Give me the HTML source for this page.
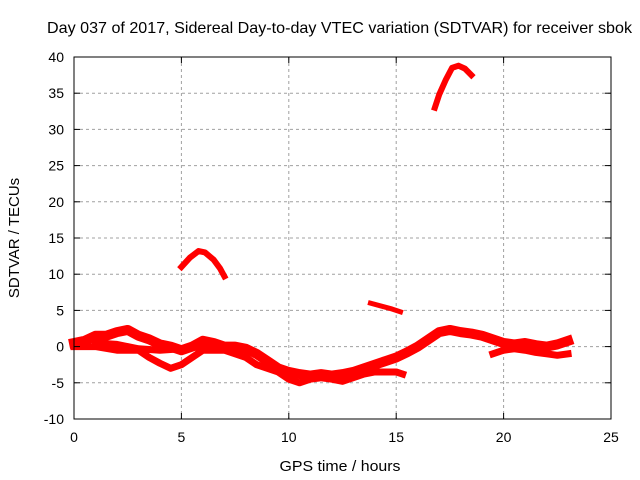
<!DOCTYPE html>
<html><head><meta charset="utf-8"><style>
body{margin:0;background:#fff;}
svg{display:block;font-family:"Liberation Sans",sans-serif;}
</style></head><body>
<svg id="chart" width="640" height="480" viewBox="0 0 640 480">
<rect width="640" height="480" fill="#fff"/>
<text x="339.5" y="33" font-size="16" text-anchor="middle" textLength="585" lengthAdjust="spacingAndGlyphs">Day 037 of 2017, Sidereal Day-to-day VTEC variation (SDTVAR) for receiver sbok</text>
<g id="grid"></g>
<g id="series"></g>
<rect x="74" y="57" width="537" height="362" fill="none" stroke="#000" stroke-width="1"/>
<g id="axes"></g>
<text x="340" y="471" font-size="15" text-anchor="middle" textLength="121" lengthAdjust="spacingAndGlyphs">GPS time / hours</text>
<text transform="translate(19,238) rotate(-90)" font-size="15" text-anchor="middle">SDTVAR / TECUs</text>
</svg>
<script>
const xTicks=[0,5,10,15,20,25];
const yTicks=[-10,-5,0,5,10,15,20,25,30,35,40];
const mainT=[0,0.5,1,1.5,2,2.5,3,3.5,4,4.5,5,5.5,6,6.5,7,7.5,8,8.5,9,9.5,10,10.5,11,11.5,12,12.5,13,13.5,14,14.5,15,15.5,16,16.5,17,17.5,18,18.5,19,19.5,20,20.5,21,21.5,22,22.5,23];
const mainV=[0.5,0.8,1.5,1.5,2,2.3,1.5,1,0.3,0,-0.5,0,0.8,0.5,0,0,-0.3,-1,-2,-3,-3.5,-3.8,-4,-3.8,-4,-3.8,-3.5,-3,-2.5,-2,-1.5,-0.8,0,1,2,2.3,2,1.8,1.5,1,0.5,0.3,0.5,0.2,0,0.3,0.8];
const lowT=[0,1,2,3,3.5,4,4.5,5,5.5,6,6.5,7,7.5,8,8.5,9,9.5,10,10.5,11,11.5,12,12.5,13,13.5,14,14.5,15,15.3];
const lowV=[0,0,-0.5,-0.5,-1.5,-2.3,-3,-2.5,-1.5,-0.5,-0.5,-0.5,-1,-1.5,-2.5,-3,-3.5,-4.5,-5,-4.5,-4.3,-4.5,-4.8,-4.3,-3.8,-3.5,-3.5,-3.5,-3.8];
const midT=[1,2,3,4,5,6,7,7.5];
const midV=[0.5,0.3,-0.3,-0.5,-0.3,0,0,0];
const tailT=[19.5,20,20.5,21,21.5,22,22.5,23];
const tailV=[-1,-0.5,-0.3,-0.5,-0.8,-1,-1.2,-1];
const hump1T=[5,5.4,5.8,6.1,6.5,6.8,7];
const hump1V=[11,12.3,13.2,13,12,10.8,9.7];
const segT=[13.8,14.3,14.8,15.2];
const segV=[6,5.6,5.2,4.8];
const hump2T=[16.8,17,17.3,17.6,17.9,18.2,18.5];
const hump2V=[33,34.8,36.8,38.5,38.8,38.4,37.5];
const X=t=>74+t*(537/25);
const Y=v=>346.6-v*7.24;
const NS="http://www.w3.org/2000/svg";
const grid=document.getElementById('grid'),axes=document.getElementById('axes'),ser=document.getElementById('series');
function mk(tag,attrs,parent){const e=document.createElementNS(NS,tag);for(const k in attrs)e.setAttribute(k,attrs[k]);parent.appendChild(e);return e;}
xTicks.forEach(t=>{
 if(t>0&&t<25){const g=mk('line',{x1:X(t),x2:X(t),y1:57,y2:419,stroke:'#a0a0a0','stroke-dasharray':'3,3'},grid);
 
 }
 const l=mk('text',{x:X(t),y:442,'font-size':14,'text-anchor':'middle'},axes);l.textContent=t;
 
 
 mk('line',{x1:X(t),x2:X(t),y1:419,y2:413,stroke:'#000'},axes);
 mk('line',{x1:X(t),x2:X(t),y1:57,y2:63,stroke:'#000'},axes);
});
yTicks.forEach(v=>{
 if(v>-10&&v<40){const g=mk('line',{x1:74,x2:611,y1:Y(v),y2:Y(v),stroke:'#a0a0a0','stroke-dasharray':'3,3'},grid);
 
 }
 const l=mk('text',{x:64,y:Y(v)+5,'font-size':14,'text-anchor':'end'},axes);l.textContent=v;
 
 
 mk('line',{x1:74,x2:80,y1:Y(v),y2:Y(v),stroke:'#000'},axes);
 mk('line',{x1:611,x2:605,y1:Y(v),y2:Y(v),stroke:'#000'},axes);
});
[[mainT,mainV,'main-track',10],[lowT,lowV,'lower-track',7],[midT,midV,'middle-track',7],[tailT,tailV,'tail-track',7],[hump1T,hump1V,'hump-early',6],[segT,segV,'segment-mid',5],[hump2T,hump2V,'hump-late',6]].forEach(([T,V,name,w])=>{
 const p=mk('polyline',{points:T.map((t,i)=>X(t)+','+Y(V[i])).join(' '),fill:'none',stroke:'#ff0000','stroke-width':w,'stroke-linejoin':'round','stroke-linecap':'square'},ser);
 
 
});
</script>
</body></html>
